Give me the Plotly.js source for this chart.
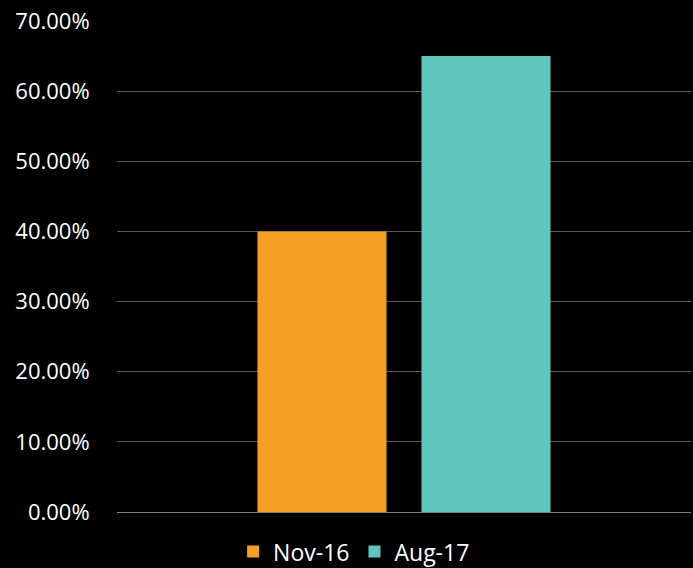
<!DOCTYPE html>
<html>
<head>
<meta charset="utf-8">
<script src="https://cdn.plot.ly/plotly-3.0.1.min.js"></script>
<style>html,body{margin:0;padding:0;background:#000;}#chart{width:693px;height:568px;}</style>
</head>
<body>
<div id="chart"></div>
<script>
var category = ['Total'];
var seriesNames = ['Nov-16', 'Aug-17'];
var seriesValues = [[0.40], [0.65]];
var seriesColors = ['#F59F22', '#5FC5BD'];

var traces = seriesNames.map(function (name, i) {
  return {
    type: 'bar',
    name: name,
    x: category,
    y: seriesValues[i],
    marker: { color: seriesColors[i] },
    hoverinfo: 'none'
  };
});

var layout = {
  width: 693,
  height: 568,
  paper_bgcolor: '#000',
  plot_bgcolor: '#000',
  margin: { l: 117, r: 2, t: 21, b: 56, autoexpand: false },
  font: { family: 'Open Sans, sans-serif', size: 22, color: '#ffffff' },
  barmode: 'group',
  bargap: 0.4286,
  bargroupgap: 0.213,
  showlegend: true,
  legend: {
    orientation: 'h',
    x: 0.511,
    xref: 'container',
    xanchor: 'center',
    y: -0.037,
    yref: 'paper',
    yanchor: 'top',
    font: { size: 23, color: '#ffffff' },
    bgcolor: 'rgba(0,0,0,0)',
    itemclick: false
  },
  xaxis: {
    showticklabels: false,
    showgrid: false,
    zeroline: false,
    showline: false,
    ticks: ''
  },
  yaxis: {
    range: [0, 0.7],
    dtick: 0.1,
    tick0: 0,
    tickformat: '.2%',
    showgrid: true,
    gridcolor: '#5a5a5a',
    gridwidth: 1,
    zeroline: true,
    zerolinecolor: '#7f7f7f',
    zerolinewidth: 1,
    showline: false,
    ticks: 'outside',
    ticklen: 22,
    tickcolor: 'rgba(0,0,0,0)',
    tickfont: { size: 22, color: '#ffffff' }
  }
};

Plotly.newPlot('chart', traces, layout, { staticPlot: true, displayModeBar: false });
</script>
</body>
</html>
